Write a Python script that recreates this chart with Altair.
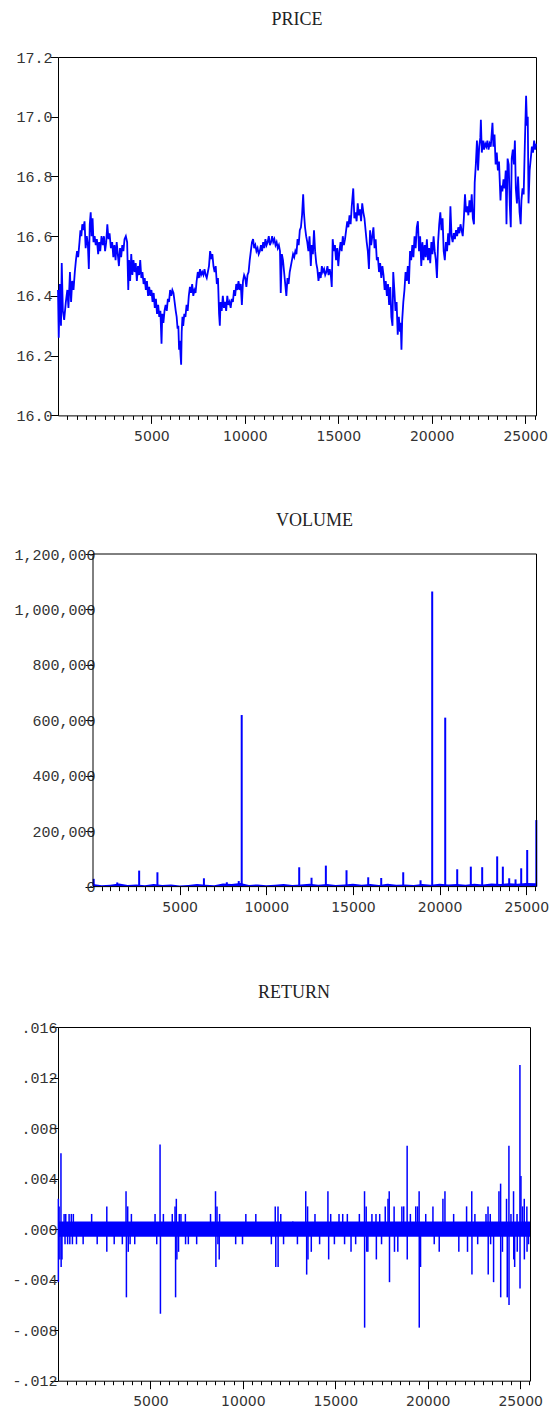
import altair as alt
import pandas as pd

# ---------------- data ----------------
price_x = [0, 40, 100, 160, 200, 260, 330, 420, 500, 560, 640, 700, 760, 830, 900, 960, 1020, 1080, 1150, 1200,
           1250, 1300, 1350, 1420, 1480, 1540, 1600, 1650, 1700, 1750, 1800, 1850, 1900, 1960, 2020, 2080, 2150,
           2200, 2260, 2330, 2400, 2460, 2520, 2580, 2640, 2700, 2760, 2830, 2900, 2960, 3020, 3080, 3140, 3200,
           3260, 3320, 3380, 3440, 3500, 3560, 3630, 3700, 3760, 3800, 3860, 3920, 3980, 4040, 4100, 4160, 4220,
           4280, 4340, 4400, 4460, 4520, 4580, 4640, 4700, 4760, 4820, 4880, 4940, 5000, 5060, 5120, 5180, 5240,
           5300, 5360, 5420, 5480, 5540, 5580, 5640, 5700, 5760, 5820, 5880, 5940, 6000, 6060, 6120, 6180, 6240,
           6300, 6350, 6400, 6440, 6480, 6520, 6560, 6590, 6620, 6660, 6700, 6760, 6820, 6880, 6940, 7000, 7060,
           7120, 7180, 7240, 7300, 7360, 7420, 7480, 7540, 7600, 7660, 7720, 7780, 7840, 7900, 7960, 8020, 8080,
           8140, 8200, 8260, 8320, 8380, 8440, 8500, 8560, 8620, 8660, 8700, 8760, 8820, 8880, 8940, 9000, 9060,
           9120, 9180, 9240, 9300, 9360, 9420, 9480, 9540, 9600, 9660, 9720, 9780, 9840, 9900, 9960, 10020, 10080,
           10140, 10200, 10260, 10320, 10380, 10440, 10500, 10560, 10620, 10680, 10740, 10800, 10860, 10920, 10980,
           11040, 11100, 11160, 11220, 11280, 11340, 11400, 11460, 11520, 11580, 11640, 11700, 11760, 11820, 11880,
           11920, 11980, 12040, 12100, 12160, 12220, 12280, 12340, 12400, 12460, 12520, 12580, 12640, 12700, 12760,
           12820, 12880, 12940, 13000, 13060, 13120, 13160, 13220, 13280, 13340, 13400, 13460, 13530, 13580, 13640,
           13700, 13760, 13820, 13880, 13940, 14000, 14060, 14120, 14180, 14240, 14300, 14360, 14420, 14480, 14540,
           14600, 14650, 14700, 14760, 14820, 14880, 14940, 15000, 15060, 15120, 15180, 15240, 15300, 15360, 15420,
           15480, 15540, 15600, 15660, 15720, 15800, 15860, 15920, 15980, 16040, 16100, 16160, 16220, 16280, 16340,
           16400, 16460, 16520, 16580, 16640, 16700, 16760, 16820, 16880, 16940, 17000, 17060, 17120, 17180, 17240,
           17300, 17360, 17420, 17480, 17540, 17600, 17660, 17720, 17780, 17840, 17900, 17940, 18000, 18060, 18120,
           18180, 18240, 18300, 18340, 18380, 18420, 18480, 18540, 18600, 18660, 18720, 18780, 18840, 18900, 18960,
           19020, 19080, 19140, 19200, 19260, 19320, 19380, 19440, 19500, 19560, 19620, 19680, 19740, 19800, 19860,
           19920, 19980, 20040, 20100, 20160, 20220, 20280, 20340, 20400, 20460, 20520, 20580, 20640, 20700, 20760,
           20820, 20880, 20940, 21000, 21060, 21120, 21180, 21240, 21300, 21360, 21420, 21480, 21540, 21600, 21660,
           21720, 21780, 21840, 21900, 21960, 22020, 22080, 22140, 22200, 22260, 22300, 22360, 22420, 22480, 22540,
           22600, 22630, 22680, 22740, 22800, 22860, 22920, 22980, 23040, 23100, 23160, 23250, 23300, 23360, 23420,
           23480, 23540, 23600, 23680, 23720, 23780, 23840, 23900, 23960, 24000, 24060, 24120, 24180, 24230, 24280,
           24340, 24400, 24450, 24500, 24560, 24620, 24700, 24760, 24800, 24860, 24920, 24980, 25050, 25100, 25140,
           25180, 25240, 25300, 25360, 25420, 25480, 25540, 25580]
price_y = [16.42, 16.26, 16.44, 16.30, 16.51, 16.35, 16.32, 16.38, 16.42, 16.36, 16.48, 16.38, 16.45, 16.42, 16.48,
           16.52, 16.55, 16.53, 16.58, 16.62, 16.60, 16.64, 16.62, 16.65, 16.56, 16.60, 16.57, 16.49, 16.64, 16.68,
           16.60, 16.66, 16.58, 16.60, 16.57, 16.59, 16.54, 16.58, 16.55, 16.60, 16.57, 16.60, 16.55, 16.58, 16.64,
           16.59, 16.61, 16.56, 16.58, 16.53, 16.57, 16.52, 16.58, 16.54, 16.50, 16.56, 16.53, 16.57, 16.55, 16.59,
           16.60, 16.58, 16.42, 16.52, 16.45, 16.54, 16.47, 16.52, 16.48, 16.51, 16.45, 16.50, 16.47, 16.52, 16.46,
           16.48, 16.44, 16.46, 16.42, 16.45, 16.40, 16.43, 16.40, 16.42, 16.38, 16.41, 16.36, 16.39, 16.34, 16.37,
           16.33, 16.35, 16.24, 16.34, 16.31, 16.35, 16.37, 16.35, 16.39, 16.38, 16.42, 16.40, 16.42, 16.41, 16.38,
           16.35, 16.33, 16.29, 16.30, 16.22, 16.25, 16.20, 16.17, 16.28, 16.33, 16.30, 16.34, 16.33, 16.37, 16.35,
           16.40, 16.43, 16.41, 16.44, 16.40, 16.42, 16.41, 16.45, 16.48, 16.46, 16.49, 16.47, 16.48, 16.47, 16.49,
           16.47, 16.46, 16.48, 16.50, 16.55, 16.53, 16.54, 16.50, 16.48, 16.50, 16.44, 16.46, 16.34, 16.30, 16.38,
           16.35, 16.40, 16.36, 16.38, 16.35, 16.40, 16.37, 16.38, 16.36, 16.39, 16.38, 16.42, 16.40, 16.44, 16.42,
           16.45, 16.42, 16.44, 16.37, 16.45, 16.47, 16.46, 16.43, 16.47, 16.48, 16.52, 16.55, 16.58, 16.59, 16.56,
           16.57, 16.55, 16.56, 16.54, 16.55, 16.57, 16.55, 16.58, 16.56, 16.59, 16.57, 16.58, 16.60, 16.57, 16.58,
           16.60, 16.58, 16.59, 16.57, 16.58, 16.56, 16.57, 16.55, 16.41, 16.54, 16.52, 16.48, 16.44, 16.40, 16.46,
           16.44, 16.48, 16.50, 16.52, 16.54, 16.53, 16.55, 16.54, 16.59, 16.57, 16.62, 16.63, 16.67, 16.74, 16.68,
           16.63, 16.60, 16.58, 16.55, 16.60, 16.50, 16.57, 16.54, 16.62, 16.55, 16.51, 16.49, 16.45, 16.48, 16.46,
           16.50, 16.48, 16.49, 16.47, 16.48, 16.50, 16.47, 16.49, 16.47, 16.43, 16.59, 16.55, 16.57, 16.52, 16.56,
           16.50, 16.55, 16.58, 16.55, 16.60, 16.57, 16.59, 16.62, 16.65, 16.63, 16.67, 16.64, 16.70, 16.76, 16.66,
           16.68, 16.65, 16.71, 16.67, 16.69, 16.65, 16.71, 16.68, 16.66, 16.62, 16.58, 16.55, 16.49, 16.62, 16.57,
           16.60, 16.63, 16.56, 16.59, 16.52, 16.53, 16.48, 16.51, 16.46, 16.50, 16.47, 16.42, 16.45, 16.40, 16.44,
           16.37, 16.43, 16.33, 16.30, 16.48, 16.42, 16.35, 16.38, 16.27, 16.33, 16.28, 16.31, 16.22, 16.32, 16.38,
           16.42, 16.48, 16.45, 16.50, 16.44, 16.55, 16.52, 16.57, 16.53, 16.60, 16.56, 16.63, 16.65, 16.55, 16.60,
           16.50, 16.58, 16.52, 16.57, 16.53, 16.59, 16.52, 16.56, 16.51, 16.58, 16.54, 16.60, 16.55, 16.52, 16.46,
           16.58, 16.64, 16.68, 16.62, 16.66, 16.55, 16.52, 16.58, 16.55, 16.61, 16.57, 16.70, 16.60, 16.58, 16.61,
           16.59, 16.62, 16.60, 16.63, 16.61, 16.64, 16.62, 16.60, 16.66, 16.74, 16.68, 16.70, 16.67, 16.72, 16.68,
           16.74, 16.66, 16.64, 16.78, 16.84, 16.92, 16.82, 16.90, 16.93, 16.99, 16.88, 16.92, 16.89, 16.91, 16.90,
           16.92, 16.89, 16.91, 16.90, 16.98, 16.90, 16.94, 16.84, 16.88, 16.82, 16.85, 16.72, 16.77, 16.75, 16.79,
           16.76, 16.82, 16.64, 16.86, 16.84, 16.70, 16.63, 16.86, 16.89, 16.84, 16.92, 16.76, 16.71, 16.80, 16.68,
           16.64, 16.72, 16.76, 16.74, 16.90, 17.07, 16.97, 17.00, 16.71, 16.82, 16.86, 16.90, 16.88, 16.92, 16.89,
           16.91]

vol_base_x = [0, 500, 1000, 1500, 2000, 2500, 3000, 3500, 4000, 4500, 5000, 5500, 6000, 6500, 7000, 7500, 8000,
              8500, 9000, 9500, 10000, 10500, 11000, 11500, 12000, 12500, 13000, 13500, 14000, 14500, 15000, 15500,
              16000, 16500, 17000, 17500, 18000, 18500, 19000, 19500, 20000, 20500, 21000, 21500, 22000, 22500,
              23000, 23500, 24000, 24500, 25000, 25580]
vol_base_y = [9000, 5000, 7000, 11000, 6000, 8000, 5000, 9000, 6000, 8000, 4000, 6000, 9000, 7000, 5000, 11000,
              9000, 13000, 6000, 8000, 5000, 7000, 9000, 6000, 8000, 10000, 7000, 9000, 6000, 8000, 10000, 7000,
              9000, 6000, 10000, 7000, 8000, 6000, 9000, 7000, 10000, 8000, 9000, 7000, 10000, 8000, 11000, 9000,
              12000, 10000, 13000, 12000]
vol_spike_x = [40, 1400, 2663, 3717, 6400, 7722, 8410, 8580, 11898, 12609, 13436, 14628, 15880, 16630, 17900,
               18900, 19572, 20323, 21015, 21800, 22456, 23321, 23648, 24015, 24380, 24707, 25053, 25580]
vol_spike_y = [28000, 15000, 57700, 51700, 30000, 15600, 20000, 619000, 69700, 32000, 75700, 59000, 33600, 31000,
               51700, 22800, 1065000, 609600, 62500, 72000, 70000, 109000, 72000, 30000, 26000, 66000, 132000,
               240000]

ret_band_x = [0, 25530]
ret_band_lo = [-0.0006, -0.0006]
ret_band_hi = [0.0006, 0.0006]
ret_spike_x = [20, 20, 60, 100, 160, 170, 215, 330, 380, 420, 520, 600, 640, 720, 780, 830, 1000, 1360, 1820,
               2120, 2640, 2640, 3040, 3480, 3680, 3700, 3770, 3800, 3900, 3970, 4150, 5250, 5340, 5520, 5540,
               5700, 6180, 6330, 6360, 6400, 6430, 6520, 6560, 6650, 6890, 6900, 7050, 7500, 8250, 8520, 8540,
               8600, 8650, 8720, 8740, 9610, 9980, 10160, 10700, 11540, 11750, 11780, 11900, 11905, 12050, 12200,
               12700, 12950, 13400, 13450, 13500, 13520, 13700, 13900, 14150, 14600, 14640, 14750, 14950, 15200,
               15400, 15500, 15650, 15850, 16100, 16300, 16580, 16585, 16670, 16700, 16760, 16980, 17200, 17220,
               17400, 17500, 17700, 17850, 17915, 17930, 18180, 18200, 18380, 18600, 18700, 18885, 18890, 19060,
               19350, 19450, 19533, 19540, 19610, 19890, 20280, 20350, 20620, 20820, 20930, 21400, 21680, 22100,
               22150, 22380, 22390, 22550, 22700, 23150, 23260, 23270, 23380, 23400, 23560, 23850, 23940, 23945,
               24040, 24260, 24300, 24390, 24395, 24500, 24640, 24650, 24700, 24830, 24840, 24985, 24990, 25040,
               25130, 25220, 25225, 25360, 25370, 25450]
ret_spike_y = [0.0024, -0.0042, 0.0018, -0.0024, 0.0060, -0.0030, -0.0024, 0.0012, -0.0012, 0.0012, -0.0012,
               0.0012, -0.0012, 0.0012, -0.0012, 0.0012, -0.0012, -0.0012, 0.0012, -0.0012, 0.0018, -0.0018,
               -0.0012, -0.0012, 0.0030, -0.0054, 0.0018, -0.0018, -0.0012, 0.0012, -0.0012, 0.0012, -0.0012,
               0.0067, -0.0067, 0.0012, 0.0012, 0.0018, -0.0054, 0.0024, -0.0024, -0.0018, 0.0012, 0.0012, 0.0012,
               -0.0012, -0.0012, -0.0012, 0.0012, 0.0030, -0.0030, 0.0018, -0.0012, -0.0024, 0.0012, -0.0012,
               -0.0012, 0.0012, 0.0012, -0.0012, 0.0018, -0.0030, 0.0018, -0.0030, 0.0012, -0.0012, 0.0006,
               -0.0012, 0.0030, -0.0036, 0.0018, -0.0024, -0.0018, 0.0012, -0.0012, 0.0030, -0.0024, 0.0012,
               -0.0012, 0.0012, 0.0012, -0.0012, 0.0012, -0.0018, -0.0012, 0.0012, 0.0030, -0.0078, 0.0018,
               -0.0018, -0.0018, 0.0012, 0.0012, -0.0024, 0.0012, -0.0012, 0.0018, 0.0024, 0.0030, -0.0042,
               0.0018, -0.0018, -0.0018, 0.0018, 0.0018, 0.0066, -0.0024, 0.0012, 0.0018, 0.0018, 0.0030, -0.0078,
               -0.0030, 0.0012, 0.0018, -0.0012, -0.0018, 0.0024, 0.0030, 0.0012, -0.0018, 0.0018, -0.0018,
               0.0030, -0.0036, 0.0012, -0.0012, 0.0012, 0.0018, -0.0036, 0.0012, -0.0012, -0.0042, 0.0030,
               0.0036, -0.0054, -0.0018, 0.0024, -0.0054, 0.0066, -0.0060, 0.0012, 0.0030, -0.0024, -0.0030,
               0.0012, -0.0018, 0.0130, -0.0047, 0.0042, 0.0018, 0.0024, -0.0024, 0.0018, -0.0018, -0.0012]

major_ticks = [5000, 10000, 15000, 20000, 25000]
minor_ticks = [500 * k for k in range(1, 52)]
price_ticks = [16.0, 16.2, 16.4, 16.6, 16.8, 17.0, 17.2]
vol_ticks = [0, 200000, 400000, 600000, 800000, 1000000, 1200000]
ret_ticks = [-0.012, -0.008, -0.004, 0.0, 0.004, 0.008, 0.012, 0.016]

# ---------------- styling ----------------
BLUE = "#0000ff"
GRAY = "#333333"
MONO = "Liberation Mono"
SANS = "DejaVu Sans"
SERIF = "Liberation Serif"

def major_axis():
    return alt.Axis(values=major_ticks, format="d", orient="bottom", tickSize=8, tickColor="black",
                    domain=False, grid=False, title=None, labelFont=SANS, labelFontSize=14,
                    labelColor=GRAY, labelPadding=6, labelFlush=False, labelOverlap=False)

def minor_axis():
    return alt.Axis(values=minor_ticks, orient="bottom", labels=False, tickSize=4, tickColor="black",
                    domain=False, grid=False, title=None)

def y_axis(values, pad, fmt=None, expr=None, offset=None):
    kw = dict(values=values, orient="left", tickSize=8, tickColor="black", domain=False, grid=False,
              title=None, labelFont=MONO, labelFontSize=15, labelColor=GRAY, labelPadding=pad,
              labelFlush=False, labelOverlap=False)
    if fmt is not None:
        kw["format"] = fmt
    if expr is not None:
        kw["labelExpr"] = expr
    if offset is not None:
        kw["offset"] = offset
    return alt.Axis(**kw)

def title(text, offset, dx=0):
    return alt.TitleParams(text=text, font=SERIF, fontSize=18, fontWeight="normal", color="#222222",
                           anchor="middle", baseline="alphabetic", offset=offset, dx=dx)

# ---------------- PRICE ----------------
price_df = pd.DataFrame({"x": price_x, "y": price_y})
px_scale = alt.Scale(domain=[0, 25580], nice=False, zero=False)
py_scale = alt.Scale(domain=[16.0, 17.2], nice=False, zero=False)
py_axis = y_axis(price_ticks, -2, fmt=".1f")
price_line = alt.Chart(price_df).mark_line(color=BLUE, strokeWidth=1.8).encode(
    x=alt.X("x:Q", scale=px_scale, axis=major_axis()),
    y=alt.Y("y:Q", scale=py_scale, axis=py_axis),
)
price_minor = alt.Chart(price_df).mark_line(opacity=0).encode(
    x=alt.X("x:Q", scale=px_scale, axis=minor_axis()),
    y=alt.Y("y:Q", scale=py_scale, axis=py_axis),
)
price_chart = alt.layer(price_line, price_minor).resolve_axis(x="independent").properties(
    width=478, height=358.4, title=title("PRICE", 7))

# ---------------- VOLUME ----------------
VW, VH = 479, 332.6
V_LEFT, V_RIGHT = 35, 478.5
vb_df = pd.DataFrame({"x": vol_base_x, "y": vol_base_y})
vs_df = pd.DataFrame({"x": vol_spike_x, "y": vol_spike_y})
vx_scale = alt.Scale(domain=[0, 25590], range=[V_LEFT, V_RIGHT], nice=False, zero=False)
vy_scale = alt.Scale(domain=[0, 1200000], nice=False, zero=True)
vy_axis = y_axis(vol_ticks, -10, fmt=",d", offset=-V_LEFT)
vol_base = alt.Chart(vb_df).mark_area(color=BLUE).encode(
    x=alt.X("x:Q", scale=vx_scale, axis=major_axis()),
    y=alt.Y("y:Q", scale=vy_scale, axis=vy_axis),
)
vol_spikes = alt.Chart(vs_df).mark_rule(color=BLUE, strokeWidth=2).encode(
    x=alt.X("x:Q", scale=vx_scale, axis=None),
    y=alt.Y("y:Q", scale=vy_scale, axis=vy_axis),
    y2=alt.datum(0),
)
vol_minor = alt.Chart(vb_df).mark_area(opacity=0).encode(
    x=alt.X("x:Q", scale=vx_scale, axis=minor_axis()),
    y=alt.Y("y:Q", scale=vy_scale, axis=vy_axis),
)
vol_frame = alt.Chart(pd.DataFrame({"k": [0]})).mark_rect(
    fillOpacity=0, stroke="black", strokeWidth=1).encode(
    x=alt.value(V_LEFT), x2=alt.value(V_RIGHT), y=alt.value(0), y2=alt.value(VH))
vol_chart = alt.layer(vol_base, vol_spikes, vol_minor, vol_frame).resolve_axis(x="independent").properties(
    width=VW, height=VH, title=title("VOLUME", 3, dx=17),
    view=alt.ViewBackground(strokeOpacity=0))

# ---------------- RETURN ----------------
band_df = pd.DataFrame({"x": ret_band_x, "lo": ret_band_lo, "hi": ret_band_hi})
rs_df = pd.DataFrame({"x": ret_spike_x, "y": ret_spike_y})
rx_scale = alt.Scale(domain=[0, 25530], nice=False, zero=False)
ry_scale = alt.Scale(domain=[-0.012, 0.016], nice=False, zero=False)
ret_expr = "(datum.value < 0 ? '-' : '') + replace(format(abs(datum.value), '.3f'), '0.', '.')"
ry_axis = y_axis(ret_ticks, -7, expr=ret_expr)
ret_band = alt.Chart(band_df).mark_area(color=BLUE).encode(
    x=alt.X("x:Q", scale=rx_scale, axis=major_axis()),
    y=alt.Y("lo:Q", scale=ry_scale, axis=ry_axis),
    y2="hi:Q",
)
ret_spikes = alt.Chart(rs_df).mark_rule(color=BLUE, strokeWidth=1.5).encode(
    x=alt.X("x:Q", scale=rx_scale, axis=None),
    y=alt.Y("y:Q", scale=ry_scale, axis=ry_axis),
    y2=alt.datum(0),
)
ret_minor = alt.Chart(band_df).mark_area(opacity=0).encode(
    x=alt.X("x:Q", scale=rx_scale, axis=minor_axis()),
    y=alt.Y("lo:Q", scale=ry_scale, axis=ry_axis),
    y2="hi:Q",
)
ret_chart = alt.layer(ret_band, ret_spikes, ret_minor).resolve_axis(x="independent").properties(
    width=472, height=353.7, title=title("RETURN", 4))

chart = alt.vconcat(price_chart, vol_chart, ret_chart, spacing=68).properties(
    padding={"left": 11, "top": 10, "right": 0, "bottom": 0},
    background="white",
).configure_view(stroke="black", strokeWidth=1)

chart.save("out.html", embed_options={"renderer": "svg", "actions": False})
